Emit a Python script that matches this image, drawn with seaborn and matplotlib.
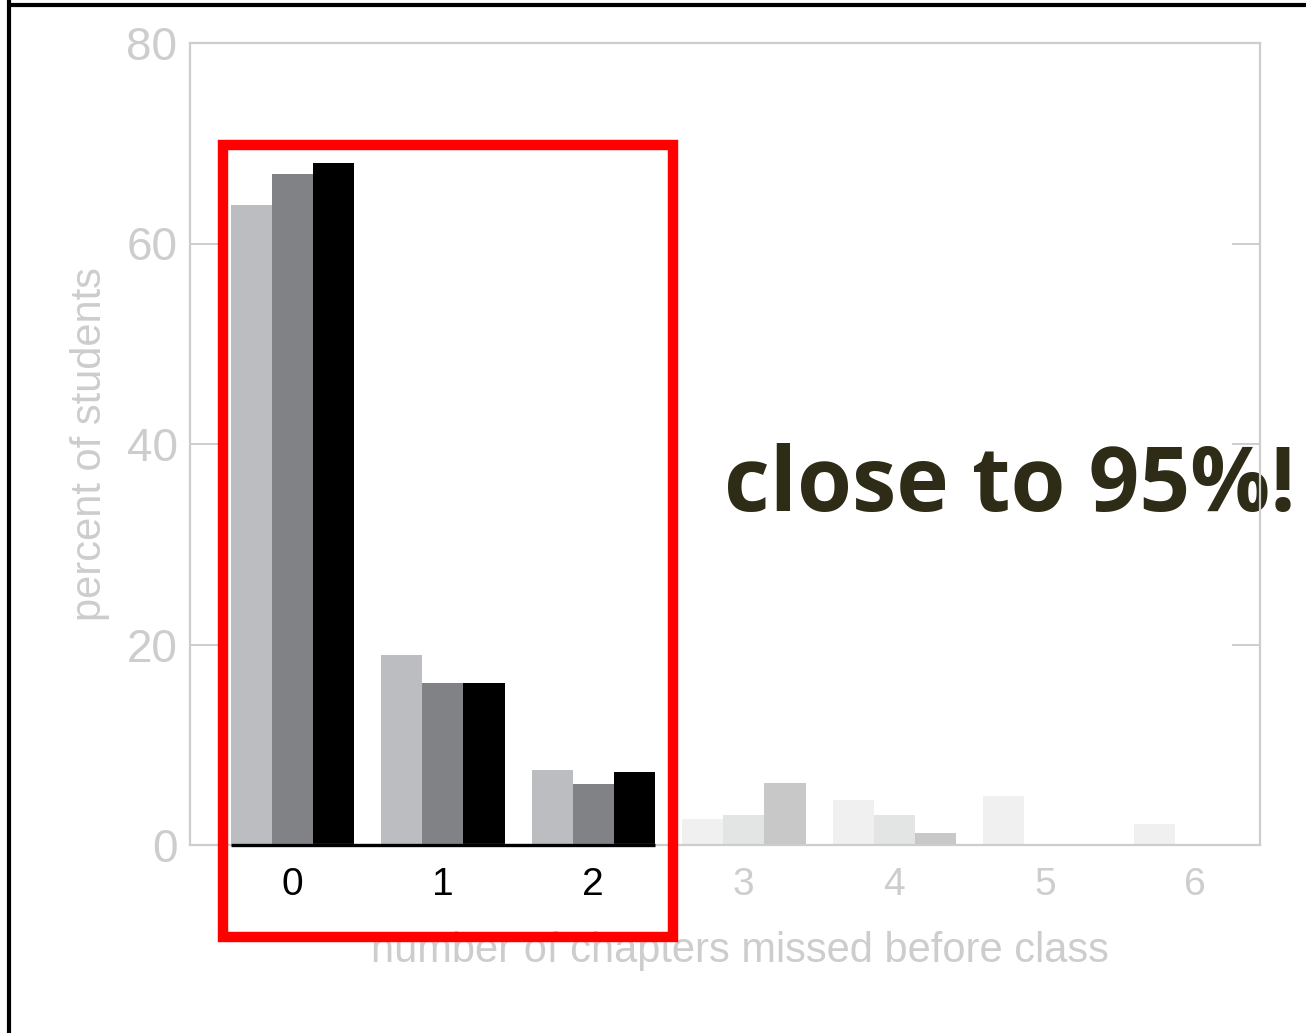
import matplotlib
matplotlib.use("Agg")
import matplotlib.pyplot as plt
import seaborn as sns
import pandas as pd
from matplotlib.lines import Line2D
from matplotlib.patches import Rectangle

# ---- data ----
categories = ["0", "1", "2", "3", "4", "5", "6"]
series_names = ["group A", "group B", "group C"]
values_a = [63.8, 19.0, 7.5, 2.6, 4.5, 4.9, 2.1]
values_b = [66.9, 16.2, 6.1, 3.0, 3.0, 0.0, 0.0]
values_c = [68.0, 16.2, 7.3, 6.2, 1.2, 0.0, 0.0]
y_ticks = [0, 20, 40, 60, 80]
highlight_count = 3  # categories 0..2 emphasised

colors_full = ["#bcbdc0", "#818286", "#000000"]
colors_faded = ["#f0f0f0", "#e3e4e4", "#c8c8c8"]
axis_gray = "#cdcdcd"

rows = []
for name, vals in zip(series_names, [values_a, values_b, values_c]):
    for c, v in zip(categories, vals):
        rows.append({"chapters": c, "percent": v, "group": name})
df = pd.DataFrame(rows)

sns.set_style("white")
plt.rcParams["font.family"] = ["Liberation Sans", "DejaVu Sans"]

fig = plt.figure(figsize=(13.06, 10.33), dpi=100)
ax = fig.add_axes([190 / 1306, 1 - 845 / 1033, 1070 / 1306, 802 / 1033])
ax.set_zorder(1)
ax.set_facecolor("none")

sns.barplot(data=df, x="chapters", y="percent", hue="group", order=categories,
            hue_order=series_names, palette=colors_full, width=0.82,
            saturation=1, legend=False, ax=ax)

for i, cont in enumerate(ax.containers):
    for j, bar in enumerate(cont):
        bar.set_edgecolor("none")
        if j >= highlight_count:
            bar.set_facecolor(colors_faded[i])

ax.set_xlim(-0.68, 6.43)
ax.set_ylim(0, 80)
ax.set_yticks(y_ticks)
ax.set_yticklabels([str(t) for t in y_ticks])

for s in ax.spines.values():
    s.set_visible(True)
    s.set_color(axis_gray)
    s.set_linewidth(1.6)

ax.tick_params(axis="y", which="both", direction="in", length=20, width=1.4,
               color=axis_gray, labelcolor=axis_gray, labelsize=33, pad=9,
               left=True, right=True)
ax.tick_params(axis="x", length=0, labelsize=28, pad=16)
for k, lbl in enumerate(ax.get_xticklabels()):
    lbl.set_color("black" if k < highlight_count else axis_gray)

ax.set_xlabel("number of chapters missed before class", fontsize=30,
              color=axis_gray)
ax.xaxis.set_label_coords(0.514, -0.107)
ax.set_ylabel("percent of students", fontsize=30, color=axis_gray)
ax.yaxis.set_label_coords(-0.075, 0.5)

# black baseline under highlighted categories
first = ax.containers[0][0]
last = ax.containers[-1][highlight_count - 1]
ax.hlines(0, first.get_x(), last.get_x() + last.get_width(), color="black",
          lw=2.4, zorder=5, clip_on=False)

# red highlight box
fig.add_artist(Rectangle((223 / 1306, 1 - 937 / 1033), 450 / 1306, 792 / 1033,
                         transform=fig.transFigure, fill=False,
                         edgecolor="#ff0000", lw=7.5, zorder=10))

# annotation (drawn beneath the chart frame, as in the slide)
fig.text(724 / 1306, 1 - 511 / 1033, "close to 95%!", fontsize=64,
         fontweight="bold", color="#2e2c17", family=["Open Sans", "DejaVu Sans"],
         ha="left", va="baseline", zorder=-1)

# slide frame lines
fig.add_artist(Line2D([9 / 1306, 9 / 1306], [0, 1], transform=fig.transFigure,
                      color="black", lw=3, zorder=20))
fig.add_artist(Line2D([9 / 1306, 1], [1 - 5 / 1033, 1 - 5 / 1033],
                      transform=fig.transFigure, color="black", lw=3, zorder=20))

fig.savefig("out.png", dpi=100)
